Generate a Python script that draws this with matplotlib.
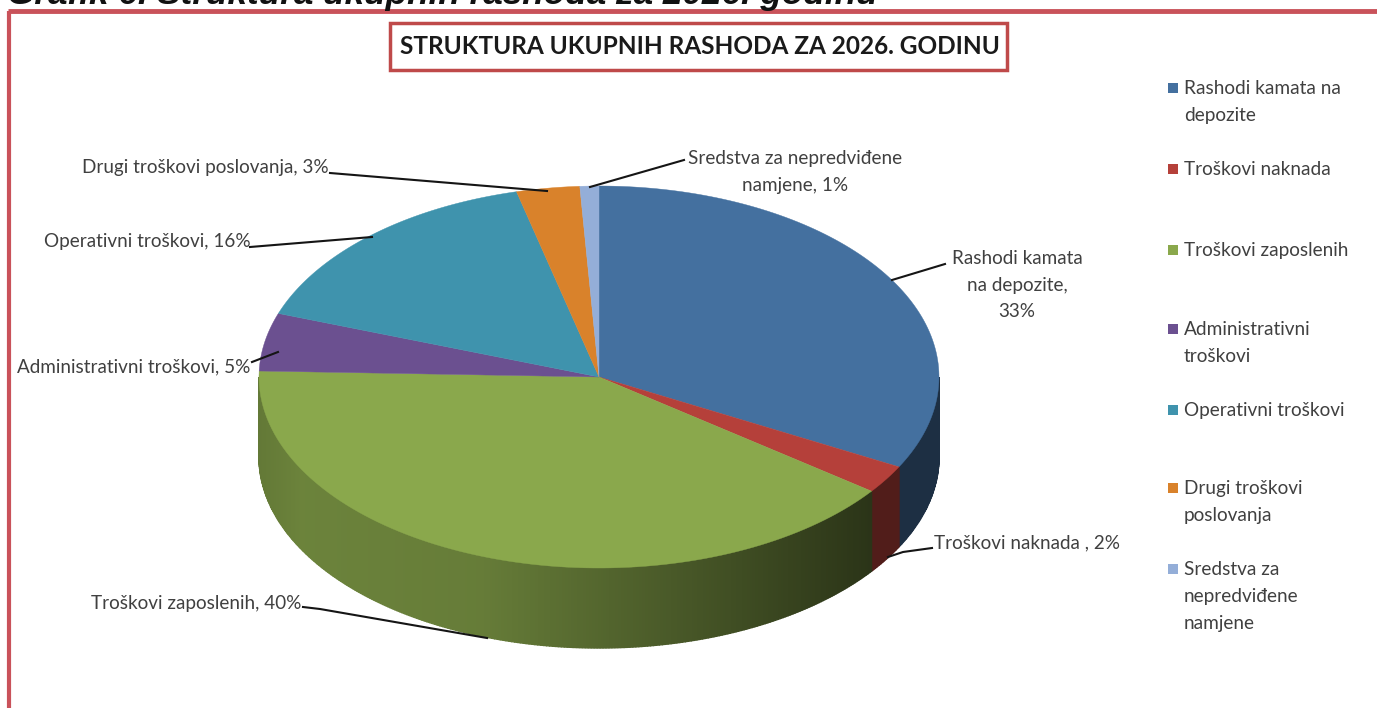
import numpy as np
import matplotlib
matplotlib.use('Agg')
import matplotlib.pyplot as plt
from matplotlib.patches import Rectangle

#values (slice sizes estimated, labels show the rounded ones)
categories = ['Rashodi kamata na depozite', 'Troškovi naknada', 'Troškovi zaposlenih',
              'Administrativni troškovi', 'Operativni troškovi', 'Drugi troškovi poslovanja',
              'Sredstva za nepredviđene namjene']
shares = [32.8, 2.4, 40.3, 4.9, 15.7, 3.0, 0.9]
colors = ['#44709f', '#b5403a', '#8aa84c', '#6b5090', '#3f93ad', '#d9822b', '#94aed8']
legend_labels = ['Rashodi kamata na\ndepozite', 'Troškovi naknada', 'Troškovi zaposlenih',
                 'Administrativni\ntroškovi', 'Operativni troškovi', 'Drugi troškovi\nposlovanja',
                 'Sredstva za\nnepredviđene\nnamjene']

W, H = 1377, 708
cx, cy, rx, ry, depth = 599, 377, 340, 191, 80
grey = '#404040'

plt.rcParams['font.family'] = ['Lato', 'DejaVu Sans']
fig = plt.figure(figsize=(W/100, H/100), dpi=100)
ax = fig.add_axes([0, 0, 1, 1])
ax.set_xlim(0, W)
ax.set_ylim(H, 0)
ax.axis('off')

def rim(t, dy=0):
    return cx + rx*np.sin(t), cy - ry*np.cos(t) + dy

def shaded(color, x, i):
    #side wall gets darker to the right, like the excel 3d pie
    rgb = np.array(matplotlib.colors.to_rgb(color))
    if i == 0:
        return rgb*0.42
    if i == 1:
        return rgb*0.45
    f = np.interp(x, [259, 300, 480, 700, 880], [0.72, 0.78, 0.74, 0.5, 0.3])
    return rgb*f

#frame and caption
ax.plot([9, 9], [H, 11], color='#c9525a', lw=3, solid_capstyle='butt')
ax.plot([8, W], [11, 11], color='#c9525a', lw=3.5, solid_capstyle='butt')
ax.text(7, 4, 'Grafik 6. Struktura ukupnih rashoda za 2026. godinu', fontsize=25.3,
        family='Liberation Sans', fontweight='bold', fontstyle='italic', color='#111111', va='baseline')

#title box
ax.add_patch(Rectangle((390, 23), 617, 47, fill=False, ec='#bf4a4a', lw=2.5))
ax.text(700, 47, 'STRUKTURA UKUPNIH RASHODA ZA 2026. GODINU', ha='center', va='center',
        fontsize=17.6, fontweight='bold', color='#1a1a1a')

#slices
edges = 2*np.pi*np.cumsum([0] + shares)/sum(shares)

#side wall, front half only
for i, color in enumerate(colors):
    a = max(edges[i], np.pi/2)
    b = min(edges[i+1], 3*np.pi/2)
    if b <= a:
        continue
    ts = np.linspace(a, b, max(2, 2*int(np.degrees(b-a))+1))
    for t0, t1 in zip(ts[:-1], ts[1:]):
        x0, y0 = rim(t0)
        x1, y1 = rim(t1)
        c = shaded(color, (x0+x1)/2, i)
        ax.fill([x0, x1, x1, x0], [y0, y1, y1+depth, y0+depth], color=c, lw=1, zorder=2)

#top
for i, color in enumerate(colors):
    ts = np.linspace(edges[i], edges[i+1], 100)
    x, y = rim(ts)
    ax.fill(np.r_[cx, x], np.r_[cy, y], color=color, lw=0.3, zorder=3)

#labels with leader lines
labels = [
    ('Rashodi kamata\nna depozite,\n33%', 1017, 285, 'center', [(892, 280), (945, 264)]),
    ('Troškovi naknada , 2%', 934, 543, 'left', [(888, 557), (903, 552), (932, 548)]),
    ('Troškovi zaposlenih, 40%', 91, 603, 'left', [(303, 607), (320, 609), (487, 638)]),
    ('Administrativni troškovi, 5%', 17, 367, 'left', [(252, 362), (278, 352)]),
    ('Operativni troškovi, 16%', 44, 241, 'left', [(250, 247), (372, 237)]),
    ('Drugi troškovi poslovanja, 3%', 82, 168, 'left', [(330, 173), (547, 191)]),
    ('Sredstva za nepredviđene\nnamjene, 1%', 795, 172, 'center', [(590, 187), (684, 160)]),
]
for text, x, y, ha, line in labels:
    ax.text(x, y, text, ha=ha, va='center', fontsize=13.6, color=grey, linespacing=1.65, zorder=5)
    xs, ys = zip(*line)
    ax.plot(xs, ys, color='#151515', lw=1.5, zorder=4)

#legend
legend_y = [88, 169, 250, 329, 410, 488, 569]
for label, color, y in zip(legend_labels, colors, legend_y):
    ax.add_patch(Rectangle((1168, y-5), 10, 10, color=color, lw=0))
    ax.text(1184, y-8, label, ha='left', va='top', fontsize=13.7, color=grey, linespacing=1.72)

fig.savefig('out.png', dpi=100)
